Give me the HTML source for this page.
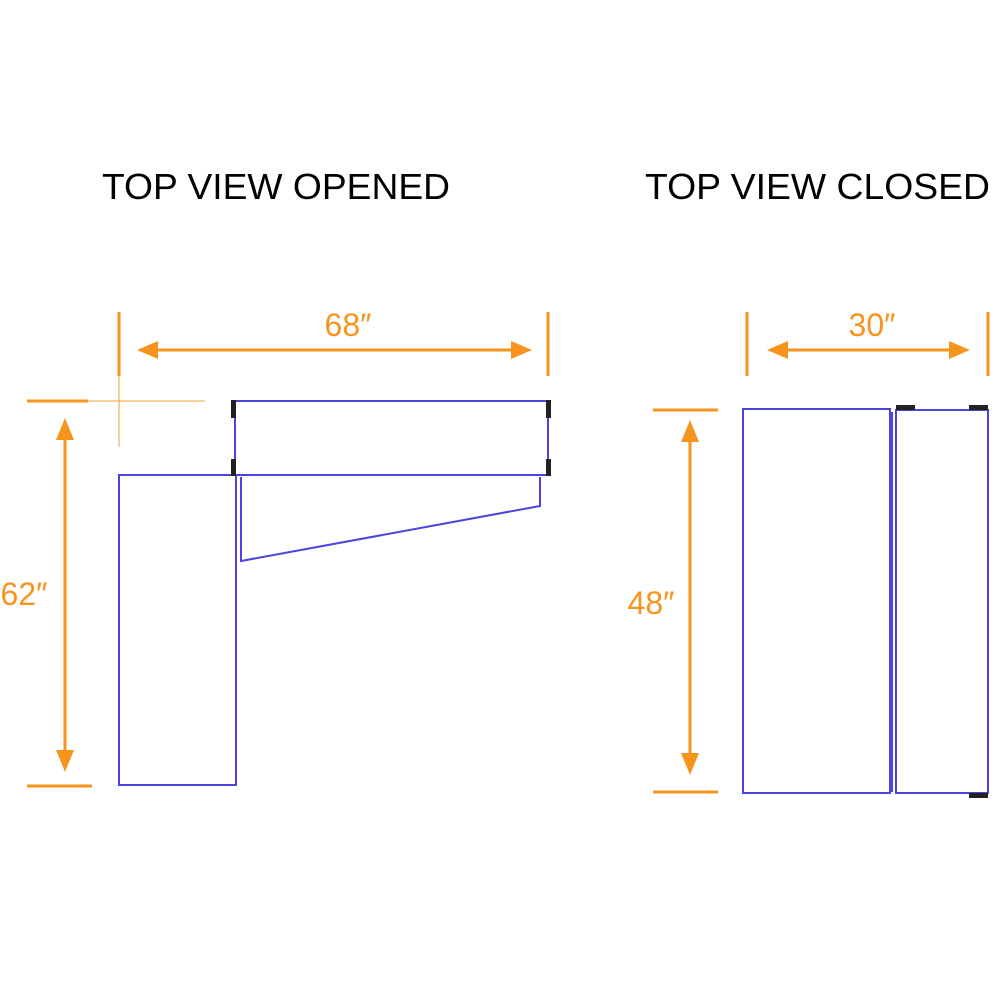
<!DOCTYPE html>
<html><head><meta charset="utf-8"><style>html,body{margin:0;padding:0;background:#fff}svg{display:block}</style></head>
<body>
<svg width="1000" height="1000" viewBox="0 0 1000 1000" xmlns="http://www.w3.org/2000/svg">
<rect width="1000" height="1000" fill="#fff"/>
<g font-family="Liberation Sans, Arial, sans-serif" fill="#000">
<text x="102" y="199" font-size="36" textLength="348" lengthAdjust="spacingAndGlyphs">TOP VIEW OPENED</text>
<text x="645" y="199" font-size="36" textLength="345" lengthAdjust="spacingAndGlyphs">TOP VIEW CLOSED</text>
</g>
<g stroke="#f7941d" stroke-width="3" fill="none">
<!-- left view dims -->
<line x1="119" y1="312" x2="119" y2="376"/>
<line x1="548" y1="312" x2="548" y2="376"/>
<line x1="155" y1="350" x2="515" y2="350"/>
<line x1="27" y1="401" x2="88" y2="401"/>
<line x1="88" y1="401" x2="205" y2="401" stroke-opacity="0.45" stroke-width="2"/>
<line x1="119" y1="376" x2="119" y2="447" stroke-opacity="0.45" stroke-width="2"/>
<line x1="65" y1="435" x2="65" y2="755"/>
<line x1="27" y1="786" x2="92" y2="786"/>
<!-- right view dims -->
<line x1="747" y1="312" x2="747" y2="376"/>
<line x1="988" y1="312" x2="988" y2="376"/>
<line x1="785" y1="350" x2="952" y2="350"/>
<line x1="653" y1="410" x2="718" y2="410"/>
<line x1="653" y1="792" x2="718" y2="792"/>
<line x1="690" y1="438" x2="690" y2="757"/>
</g>
<g fill="#f7941d">
<polygon points="137,350 158,341 158,359"/>
<polygon points="532,350 511,341 511,359"/>
<polygon points="65,418 56,440 74,440"/>
<polygon points="65,772 56,750 74,750"/>
<polygon points="767,350 788,341 788,359"/>
<polygon points="970,350 949,341 949,359"/>
<polygon points="690,420 681,442 699,442"/>
<polygon points="690,775 681,753 699,753"/>
</g>
<g font-family="Liberation Sans, Arial, sans-serif" fill="#f7941d" font-size="32">
<text x="348" y="336" text-anchor="middle">68″</text>
<text x="24" y="605" text-anchor="middle">62″</text>
<text x="872" y="336" text-anchor="middle">30″</text>
<text x="651" y="614" text-anchor="middle">48″</text>
</g>
<g stroke="#4b44e0" stroke-width="2" fill="none">
<rect x="235" y="401" width="313" height="74"/>
<rect x="119" y="475" width="117" height="310"/>
<polyline points="241,477 241,561 540,506 540,477"/>
<rect x="743" y="409" width="147" height="384"/>
<rect x="896" y="410" width="92" height="383"/>
<line x1="892" y1="412" x2="892" y2="792"/>
</g>
<g fill="#222">
<rect x="231" y="400" width="5" height="18"/>
<rect x="546" y="400" width="5" height="18"/>
<rect x="231" y="459" width="5" height="17"/>
<rect x="546" y="459" width="5" height="17"/>
<rect x="896" y="405" width="19" height="5"/>
<rect x="969" y="405" width="19" height="5"/>
<rect x="969" y="793" width="19" height="5"/>
</g>
</svg>
</body></html>
